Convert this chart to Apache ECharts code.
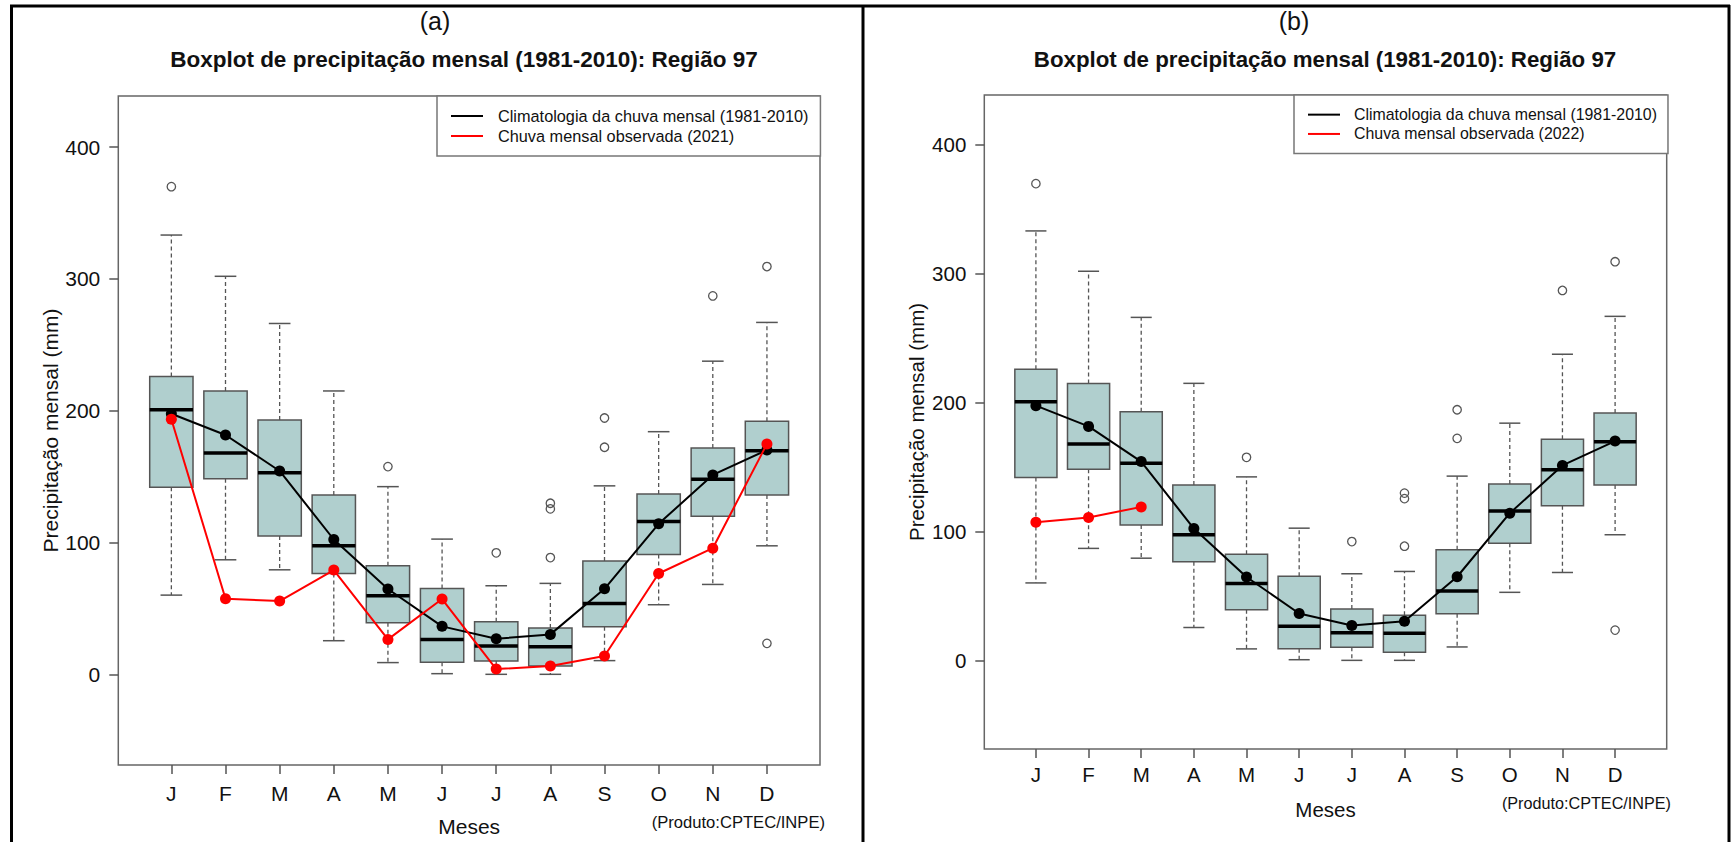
<!DOCTYPE html>
<html><head><meta charset="utf-8">
<script src="https://cdn.jsdelivr.net/npm/echarts@6/dist/echarts.min.js"></script>
<style>html,body{margin:0;padding:0;background:#fff}#c{width:1735px;height:842px}</style>
</head><body><div id="c"></div>
<script>
// ---- data (mm) ----
const months = ['J','F','M','A','M','J','J','A','S','O','N','D'];
const monthPos = [1,2,3,4,5,6,7,8,9,10,11,12];
const whiskerLow  = [60.1, 86.9, 79.3, 25.5, 8.9, 0.5, 0, 0, 10.4, 52.8, 68.2, 97.5];
const q1          = [142, 148.3, 105, 76.5, 39.2, 9.1, 10.1, 6.3, 36.1, 90.9, 120, 136.1];
const median      = [200.8, 168, 153, 97.5, 59.6, 26.5, 21.5, 21, 53.8, 115.9, 148, 169.7];
const q3          = [226, 214.9, 193, 136.1, 82.3, 65.2, 39.9, 35.1, 85.9, 136.9, 171.7, 192];
const whiskerHigh = [333.3, 302, 266.2, 215, 142.4, 102.6, 67.2, 69, 143, 184.1, 237.6, 267];
const outlierMonth = [1, 5, 7, 8, 8, 8, 9, 9, 11, 12, 12];
const outlierValue = [370, 157.6, 92.2, 129.8, 125.5, 88.6, 194.5, 172.3, 287.1, 309.4, 23.5];
const climMean = [197.7, 181.6, 154.3, 102.3, 64.7, 36.4, 27, 30.3, 64.9, 114.2, 151.3, 170.2];
const obs2021  = [193.5, 57.3, 55.6, 79.1, 26.5, 57.1, 4, 6.3, 13.9, 76.5, 95.7, 174.8];
const obs2022  = [107.2, 110.8, 119.1];
const yTicks = [0, 100, 200, 300, 400];

const nameClim = 'Climatologia da chuva mensal (1981-2010)';
const nameObsA = 'Chuva mensal observada (2021)';
const nameObsB = 'Chuva mensal observada (2022)';
const FONT = '"Liberation Sans", Arial, Helvetica, sans-serif';

const boxData = monthPos.map((m, i) => [m, whiskerLow[i], q1[i], median[i], q3[i], whiskerHigh[i]]);
const outData = outlierMonth.map((m, i) => [m, outlierValue[i]]);
const meanData = monthPos.map((m, i) => [m, climMean[i]]);
const obsAData = obs2021.map((v, i) => [monthPos[i], v]);
const obsBData = obs2022.map((v, i) => [monthPos[i], v]);

function renderBox(params, api) {
  const x = api.value(0);
  const pLo = api.coord([x, api.value(1)]);
  const pQ1 = api.coord([x, api.value(2)]);
  const pMed = api.coord([x, api.value(3)]);
  const pQ3 = api.coord([x, api.value(4)]);
  const pHi = api.coord([x, api.value(5)]);
  const bw = api.size([0.8, 0])[0];
  const cw = api.size([0.4, 0])[0];
  const cx = pMed[0];
  const dash = {stroke: '#555', lineWidth: 1.3, lineDash: [4, 3]};
  const solid = {stroke: '#555', lineWidth: 1.5};
  return {type: 'group', children: [
    {type: 'line', shape: {x1: cx, y1: pQ3[1], x2: cx, y2: pHi[1]}, style: dash},
    {type: 'line', shape: {x1: cx, y1: pQ1[1], x2: cx, y2: pLo[1]}, style: dash},
    {type: 'line', shape: {x1: cx - cw / 2, y1: pHi[1], x2: cx + cw / 2, y2: pHi[1]}, style: solid},
    {type: 'line', shape: {x1: cx - cw / 2, y1: pLo[1], x2: cx + cw / 2, y2: pLo[1]}, style: solid},
    {type: 'rect', shape: {x: cx - bw / 2, y: pQ3[1], width: bw, height: pQ1[1] - pQ3[1]},
     style: {fill: '#b0cfce', stroke: '#555', lineWidth: 1.5}},
    {type: 'line', shape: {x1: cx - bw / 2, y1: pMed[1], x2: cx + bw / 2, y2: pMed[1]},
     style: {stroke: '#000', lineWidth: 3.5}}
  ]};
}

function renderOutlier(params, api) {
  const p = api.coord([api.value(0), api.value(1)]);
  return {type: 'circle', shape: {cx: p[0], cy: p[1], r: 4.2},
          style: {fill: 'none', stroke: '#555', lineWidth: 1.3}};
}

function xAxisCfg(gi, fs, nameGap, margin) {
  return {
    type: 'value', gridIndex: gi, min: 0.02, max: 12.98,
    name: 'Meses', nameLocation: 'middle', nameGap: nameGap,
    nameTextStyle: {fontFamily: FONT, fontSize: fs, color: '#111'},
    axisLine: {show: false, onZero: false}, splitLine: {show: false},
    axisTick: {show: true, customValues: monthPos, length: 9, lineStyle: {color: '#555', width: 1.5}},
    axisLabel: {show: true, customValues: monthPos, margin: margin, fontFamily: FONT, fontSize: fs, color: '#111',
      formatter: v => months[Math.round(v) - 1] || ''}
  };
}
function yAxisCfg(gi, fs, nameGap) {
  return {
    type: 'value', gridIndex: gi, min: -68.8, max: 438.8,
    name: 'Precipitação mensal (mm)', nameLocation: 'middle', nameGap: nameGap, nameRotate: 90,
    nameTextStyle: {fontFamily: FONT, fontSize: fs, color: '#111'},
    axisLine: {show: false, onZero: false}, splitLine: {show: false},
    axisTick: {show: true, customValues: yTicks, length: 9, lineStyle: {color: '#555', width: 1.5}},
    axisLabel: {show: true, customValues: yTicks, margin: 18, fontFamily: FONT, fontSize: fs, color: '#111'}
  };
}

function panelSeries(gi, obsName, obsData) {
  return [
    {type: 'custom', name: 'box' + gi, xAxisIndex: gi, yAxisIndex: gi, renderItem: renderBox,
     data: boxData, encode: {x: 0, y: [1, 2, 3, 4, 5]}, silent: true, z: 2},
    {type: 'custom', name: 'out' + gi, xAxisIndex: gi, yAxisIndex: gi, renderItem: renderOutlier,
     data: outData, encode: {x: 0, y: 1}, silent: true, z: 3},
    {type: 'line', name: nameClim, xAxisIndex: gi, yAxisIndex: gi, data: meanData,
     symbol: 'circle', symbolSize: 11, showSymbol: true,
     lineStyle: {color: '#000', width: 2}, itemStyle: {color: '#000'}, z: 4, animation: false},
    {type: 'line', name: obsName, xAxisIndex: gi, yAxisIndex: gi, data: obsData,
     symbol: 'circle', symbolSize: 11, showSymbol: true,
     lineStyle: {color: '#ff0000', width: 2}, itemStyle: {color: '#ff0000'}, z: 5, animation: false}
  ];
}

function legendCfg(left, top, names, fs, pad, textPad, lh) {
  return {
    orient: 'vertical', left: left, top: top, padding: pad, itemGap: 0,
    itemWidth: 32, itemHeight: 2, borderColor: '#777', borderWidth: 1.5, borderRadius: 0,
    backgroundColor: '#fff', selectedMode: false,
    data: names.map(n => ({name: n, icon: 'rect'})),
    textStyle: {fontFamily: FONT, fontSize: fs, color: '#111', lineHeight: lh, padding: [0, 0, 0, textPad]}
  };
}

const chart = echarts.init(document.getElementById('c'), null, {renderer: 'svg'});
chart.setOption({
  animation: false,
  backgroundColor: '#fff',
  title: [
    {text: '(a)', left: 430, top: 3, textAlign: 'center', textStyle: {fontFamily: FONT, fontSize: 25, fontWeight: 'normal', color: '#111'}},
    {text: 'Boxplot de precipitação mensal (1981-2010): Região 97', left: 459, top: 43, textAlign: 'center',
     textStyle: {fontFamily: FONT, fontSize: 22.5, fontWeight: 'bold', color: '#111'}},
    {text: '(b)', left: 1289, top: 3, textAlign: 'center', textStyle: {fontFamily: FONT, fontSize: 25, fontWeight: 'normal', color: '#111'}},
    {text: 'Boxplot de precipitação mensal (1981-2010): Região 97', left: 1320, top: 43, textAlign: 'center',
     textStyle: {fontFamily: FONT, fontSize: 22.3, fontWeight: 'bold', color: '#111'}},
    {text: '(Produto:CPTEC/INPE)', left: 820, top: 809, textAlign: 'right', textStyle: {fontFamily: FONT, fontSize: 16.6, fontWeight: 'normal', color: '#111'}},
    {text: '(Produto:CPTEC/INPE)', left: 1666, top: 790, textAlign: 'right', textStyle: {fontFamily: FONT, fontSize: 16.2, fontWeight: 'normal', color: '#111'}}
  ],
  legend: [
    legendCfg(437, 96, [nameClim, nameObsA], 16.3, [10, 12, 10, 14], 10, 20),
    legendCfg(1294, 95, [nameClim, nameObsB], 15.9, [10, 11, 10, 14], 9, 19.3)
  ],
  grid: [
    {left: 118.3, top: 96, width: 701.7, height: 670.7, show: true, borderColor: '#666', borderWidth: 1.5, backgroundColor: 'transparent', containLabel: false},
    {left: 984.3, top: 95, width: 682.4, height: 654, show: true, borderColor: '#666', borderWidth: 1.5, backgroundColor: 'transparent', containLabel: false}
  ],
  xAxis: [xAxisCfg(0, 21, 51, 18), xAxisCfg(1, 20.5, 50, 15)],
  yAxis: [yAxisCfg(0, 21, 55), yAxisCfg(1, 20.5, 57)],
  graphic: [
    {type: 'line', shape: {x1: 10, y1: 6, x2: 1730, y2: 6}, style: {stroke: '#000', lineWidth: 3}, silent: true},
    {type: 'line', shape: {x1: 11.5, y1: 5, x2: 11.5, y2: 842}, style: {stroke: '#000', lineWidth: 3}, silent: true},
    {type: 'line', shape: {x1: 863, y1: 5, x2: 863, y2: 842}, style: {stroke: '#000', lineWidth: 3}, silent: true},
    {type: 'line', shape: {x1: 1729, y1: 5, x2: 1729, y2: 842}, style: {stroke: '#000', lineWidth: 3}, silent: true}
  ],
  series: [].concat(panelSeries(0, nameObsA, obsAData), panelSeries(1, nameObsB, obsBData))
});
</script>
</body></html>
